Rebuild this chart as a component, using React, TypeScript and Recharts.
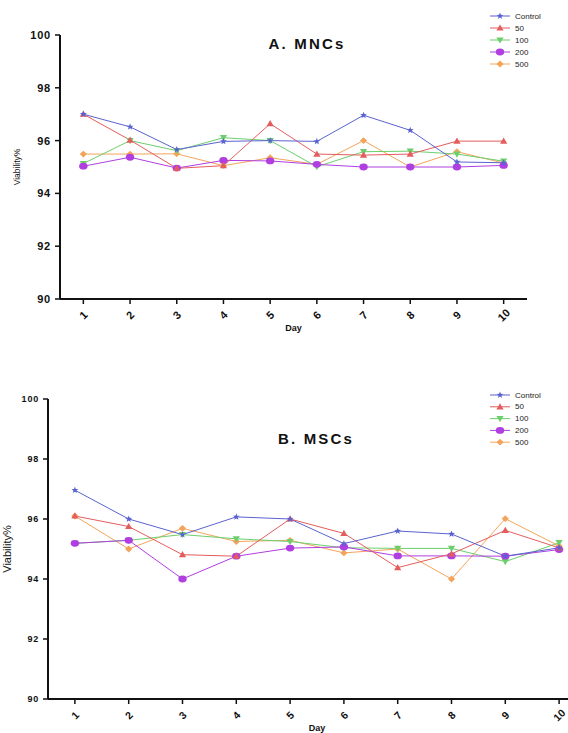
import React from "react";
import { LineChart, Line, XAxis, YAxis, Legend } from "recharts";

const days = [1, 2, 3, 4, 5, 6, 7, 8, 9, 10];
const yTicks = [90, 92, 94, 96, 98, 100];
const seriesNames = ["Control", "50", "100", "200", "500"];

// A. MNCs
const mncControl = [97.0, 96.52, 95.66, 95.97, 96.0, 95.97, 96.96, 96.39, 95.19, 95.16];
const mnc50 = [97.0, 96.02, 94.95, 95.05, 96.64, 95.49, 95.45, 95.49, 95.98, 95.98];
const mnc100 = [95.13, 96.0, 95.62, 96.11, 96.0, 95.01, 95.58, 95.6, 95.49, 95.22];
const mnc200 = [95.03, 95.37, 94.96, 95.25, 95.23, 95.1, 95.0, 95.0, 95.0, 95.06];
const mnc500 = [95.49, 95.49, 95.5, 95.05, 95.35, 95.1, 96.0, 95.0, 95.58, 95.15];

// B. MSCs
const mscControl = [96.96, 96.0, 95.48, 96.07, 96.0, 95.18, 95.6, 95.5, 94.76, 95.04];
const msc50 = [96.1, 95.75, 94.81, 94.76, 96.0, 95.52, 94.38, 94.84, 95.62, 95.04];
const msc100 = [95.19, 95.29, 95.48, 95.34, 95.25, 95.04, 95.02, 95.02, 94.58, 95.21];
const msc200 = [95.19, 95.29, 94.0, 94.76, 95.03, 95.07, 94.77, 94.77, 94.76, 94.98];
const msc500 = [96.1, 95.0, 95.69, 95.25, 95.29, 94.87, 95.0, 94.0, 96.01, 95.1];

const colors: Record<string, string> = {
  Control: "#5a62d0",
  "50": "#e45d5d",
  "100": "#6ccf6c",
  "200": "#b03ee0",
  "500": "#f4a45a",
};
const shapes: Record<string, string> = {
  Control: "star",
  "50": "up",
  "100": "down",
  "200": "circle",
  "500": "diamond",
};
// bottom -> top drawing order
const drawOrder = ["500", "100", "200", "50", "Control"];

const font = "Arial, 'Liberation Sans', sans-serif";

function buildRows(series: number[][]) {
  return days.map((d, i) => {
    const row: Record<string, number> = { day: d };
    seriesNames.forEach((name, k) => {
      row[name] = series[k][i];
    });
    return row;
  });
}

const mncData = buildRows([mncControl, mnc50, mnc100, mnc200, mnc500]);
const mscData = buildRows([mscControl, msc50, msc100, msc200, msc500]);

function Marker({ cx, cy, shape, color }: any) {
  if (cx == null || cy == null) return null;
  if (shape === "star") {
    const pts: string[] = [];
    for (let i = 0; i < 10; i++) {
      const r = i % 2 === 0 ? 3.6 : 1.5;
      const a = (Math.PI / 5) * i - Math.PI / 2;
      pts.push(`${cx + r * Math.cos(a)},${cy + r * Math.sin(a)}`);
    }
    return <polygon points={pts.join(" ")} fill={color} />;
  }
  if (shape === "up")
    return <polygon points={`${cx},${cy - 3.6} ${cx + 3.6},${cy + 2.6} ${cx - 3.6},${cy + 2.6}`} fill={color} />;
  if (shape === "down")
    return <polygon points={`${cx},${cy + 3.6} ${cx + 3.6},${cy - 2.6} ${cx - 3.6},${cy - 2.6}`} fill={color} />;
  if (shape === "circle") return <ellipse cx={cx} cy={cy} rx={4.2} ry={3.4} fill={color} />;
  return <polygon points={`${cx},${cy - 3.4} ${cx + 3.6},${cy} ${cx},${cy + 3.4} ${cx - 3.6},${cy}`} fill={color} />;
}

function DayTick({ x, y, payload, size }: any) {
  const ty = y + 9;
  return (
    <text
      x={x}
      y={ty}
      transform={`rotate(-45 ${x} ${ty})`}
      textAnchor="middle"
      dominantBaseline="central"
      fontSize={size}
      fontWeight="bold"
      fontFamily={font}
      fill="#111"
    >
      {payload.value}
    </text>
  );
}

function ValueTick({ x, y, payload, size }: any) {
  return (
    <text
      x={x - 2}
      y={y}
      textAnchor="end"
      dominantBaseline="central"
      fontSize={size}
      fontWeight="bold"
      fontFamily={font}
      letterSpacing={0.8}
      fill="#111"
    >
      {payload.value}
    </text>
  );
}

function YLabel({ viewBox, lx, size }: any) {
  const cy = viewBox.y + viewBox.height / 2;
  return (
    <text
      x={lx}
      y={cy}
      transform={`rotate(-90 ${lx} ${cy})`}
      textAnchor="middle"
      dominantBaseline="central"
      fontSize={size}
      fontFamily={font}
      fill="#111"
    >
      Viability%
    </text>
  );
}

function LegendBox({ gap }: any) {
  return (
    <svg width={80} height={gap * 5 + 4}>
      {seriesNames.map((name, i) => {
        const y = 6 + i * gap;
        return (
          <g key={name}>
            <line x1={0} x2={20} y1={y} y2={y} stroke={colors[name]} strokeWidth={1} />
            <Marker cx={10} cy={y} shape={shapes[name]} color={colors[name]} />
            <text x={25} y={y} dominantBaseline="central" fontSize={8} fontFamily={font} fill="#222">
              {name}
            </text>
          </g>
        );
      })}
    </svg>
  );
}

type PanelProps = {
  data: Record<string, number>[];
  title: string;
  top: number;
  width: number;
  height: number;
  margin: { top: number; right: number; left: number; bottom: number };
  yWidth: number;
  xHeight: number;
  tickSize: number;
  yTickSize: number;
  labelX: number;
  labelSize: number;
  titleX: number;
  titleY: number;
  legendTop: number;
  legendGap: number;
  dayOffset: number;
};

function Panel(p: PanelProps) {
  return (
    <div style={{ position: "absolute", left: 0, top: p.top }}>
      <LineChart width={p.width} height={p.height} data={p.data} margin={p.margin}>
        <XAxis
          dataKey="day"
          type="number"
          domain={[0.5, 10.5]}
          ticks={days}
          height={p.xHeight}
          axisLine={{ stroke: "#111", strokeWidth: 2 }}
          tickLine={{ stroke: "#111", strokeWidth: 1.5 }}
          tickSize={5}
          tick={<DayTick size={p.tickSize} />}
          label={{
            value: "Day",
            position: "insideBottom",
            offset: p.dayOffset,
            style: { fontSize: 9, fontWeight: "bold", fontFamily: font, fill: "#111" },
          }}
        />
        <YAxis
          type="number"
          domain={[90, 100]}
          ticks={yTicks}
          width={p.yWidth}
          axisLine={{ stroke: "#111", strokeWidth: 2 }}
          tickLine={{ stroke: "#111", strokeWidth: 1.5 }}
          tickSize={5}
          tick={<ValueTick size={p.yTickSize} />}
          label={<YLabel lx={p.labelX} size={p.labelSize} />}
        />
        <Legend
          layout="vertical"
          align="center"
          verticalAlign="middle"
          wrapperStyle={{ top: p.legendTop, left: 490, width: 80 }}
          content={() => <LegendBox gap={p.legendGap} />}
        />
        {drawOrder.map((name) => (
          <Line
            key={name}
            dataKey={name}
            stroke={colors[name]}
            strokeWidth={1}
            isAnimationActive={false}
            dot={(d: any) => (
              <Marker key={`${name}-${d.index}`} cx={d.cx} cy={d.cy} shape={shapes[name]} color={colors[name]} />
            )}
            activeDot={false}
          />
        ))}
        <text
          x={p.titleX}
          y={p.titleY}
          textAnchor="middle"
          dominantBaseline="central"
          fontSize={15}
          fontWeight="bold"
          fontFamily={font}
          letterSpacing={2.2}
          fill="#111"
        >
          {p.title}
        </text>
      </LineChart>
    </div>
  );
}

export default function App() {
  return (
    <div
      style={{
        position: "absolute",
        left: 0,
        top: 0,
        width: 568,
        height: 733,
        overflow: "hidden",
        background: "#fff",
      }}
    >
      <Panel
        data={mncData}
        title="A. MNCs"
        top={0}
        width={568}
        height={345}
        margin={{ top: 35, right: 41, left: 0, bottom: 6 }}
        yWidth={60}
        xHeight={40}
        tickSize={11}
        yTickSize={11}
        labelX={17}
        labelSize={8.5}
        titleX={307}
        titleY={43}
        legendTop={10}
        legendGap={12}
        dayOffset={8}
      />
      <Panel
        data={mscData}
        title="B. MSCs"
        top={380}
        width={600}
        height={353}
        margin={{ top: 19, right: 14, left: 0, bottom: 0 }}
        yWidth={48}
        xHeight={34}
        tickSize={10.5}
        yTickSize={9}
        labelX={7}
        labelSize={11}
        titleX={316}
        titleY={58}
        legendTop={9}
        legendGap={11.8}
        dayOffset={2}
      />
    </div>
  );
}
